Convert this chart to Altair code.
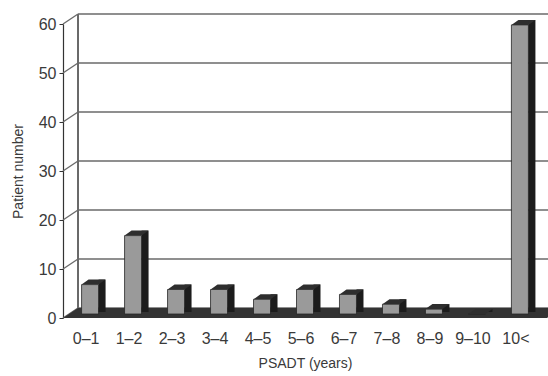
import altair as alt
import pandas as pd

# PSADT groups and patient counts
categories = ["0–1", "1–2", "2–3", "3–4", "4–5", "5–6", "6–7", "7–8", "8–9", "9–10", "10<"]
patients = [6, 16, 5, 5, 3, 5, 4, 2, 1, 0, 59]
y_ticks = [0, 10, 20, 30, 40, 50, 60]

W, H = 484, 294
DEPTH_X, DEPTH_Y = 15, -10   # offset of the back wall
BAR_SHIFT = -4               # bars sit slightly back on the floor
FONT = "Liberation Sans"
TEXT = "#3a3a3a"
GRID = "#6a6a6a"

bars = pd.DataFrame({"group": categories, "patients": patients})
ticks = pd.DataFrame({"v": y_ticks})

x_enc = alt.X("group:N", sort=categories,
              scale=alt.Scale(paddingInner=0, paddingOuter=0.13),
              axis=alt.Axis(title="PSADT (years)", labelAngle=0, domain=False, ticks=False,
                            labelFontSize=16, labelPadding=12, labelOffset=-4,
                            titleFontSize=14, titleFontWeight="normal", titlePadding=10,
                            labelColor=TEXT, titleColor=TEXT, labelFont=FONT, titleFont=FONT))
y_scale = alt.Scale(domain=[0, 60], nice=False)
y_axis = alt.Axis(title="Patient number", values=y_ticks, grid=False,
                  domainColor="#333333", domainWidth=1.2, tickColor="#333333", tickSize=4,
                  labelFontSize=16, labelPadding=3, labelColor=TEXT, labelFont=FONT,
                  titleFontSize=14, titleFontWeight="normal", titleColor=TEXT, titleFont=FONT,
                  titlePadding=13)

# back wall gridlines
back_grid = alt.Chart(ticks).mark_rule(color=GRID, strokeWidth=1.3, yOffset=DEPTH_Y).encode(
    x=alt.value(DEPTH_X), x2=alt.value(W + 40),
    y=alt.Y("v:Q", scale=y_scale, axis=y_axis))

# side wall connectors from the front axis to the back wall
side_grid = alt.Chart(ticks).mark_rule(color=GRID, strokeWidth=1.3, y2Offset=DEPTH_Y).encode(
    x=alt.value(0), x2=alt.value(DEPTH_X),
    y=alt.Y("v:Q", scale=y_scale), y2="v:Q")

# back wall left edge
back_edge = alt.Chart(ticks).mark_rule(color=GRID, strokeWidth=1.3,
                                       yOffset=DEPTH_Y, y2Offset=DEPTH_Y).encode(
    x=alt.value(DEPTH_X), y=alt.datum(0, scale=y_scale), y2=alt.datum(60))

# floor
floor_path = f"M 0 0 L {W} 0 L {W + DEPTH_X} {DEPTH_Y} L {DEPTH_X} {DEPTH_Y} Z"
floor = alt.Chart(ticks.head(1)).mark_point(shape=floor_path, size=4, filled=True,
                                            fill="#333333", opacity=1, strokeWidth=0).encode(
    x=alt.value(0), y=alt.datum(0, scale=y_scale))

# bar front faces
front = alt.Chart(bars).mark_bar(size=17, color="#9a9a9a", stroke="#262626", strokeWidth=0.8,
                                 yOffset=BAR_SHIFT, y2Offset=BAR_SHIFT).encode(
    x=x_enc, y=alt.Y("patients:Q", scale=y_scale), y2=alt.datum(0))

# bar side faces
side = alt.Chart(bars).mark_bar(size=7, color="#1c1c1c", xOffset=12,
                                yOffset=BAR_SHIFT - 5, y2Offset=BAR_SHIFT - 2).encode(
    x=alt.X("group:N", sort=categories), y=alt.Y("patients:Q", scale=y_scale), y2=alt.datum(0))

# bar top faces
top_path = "M -8.5 0 L 8.5 0 L 15.5 -5 L -1.5 -5 Z"
top = alt.Chart(bars).mark_point(shape=top_path, size=4, filled=True, fill="#2e2e2e",
                                 opacity=1, strokeWidth=0, yOffset=BAR_SHIFT).encode(
    x=alt.X("group:N", sort=categories), y=alt.Y("patients:Q", scale=y_scale))

chart = alt.layer(back_grid, side_grid, back_edge, floor, front, side, top).properties(
    width=W, height=H,
    autosize=alt.AutoSizeParams(type="none"),
    padding={"left": 63, "top": 24, "right": 1, "bottom": 58},
    background="white",
).configure_view(stroke=None)

chart.save("out.html", embed_options={"renderer": "svg", "actions": False})
